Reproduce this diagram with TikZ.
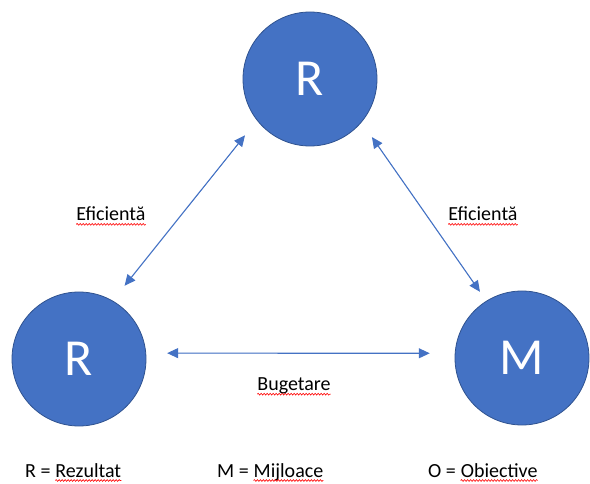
\documentclass[tikz,border=0pt]{standalone}
\usepackage{fontspec}
\setmainfont{Carlito}
\usepackage{tikz}
\usetikzlibrary{positioning}
\usetikzlibrary{arrows.meta}
\usetikzlibrary{decorations.pathmorphing}
\usepackage{xcolor}
\definecolor{officeblue}{HTML}{4472C4}
\definecolor{officeline}{HTML}{2F528F}

\begin{document}
\begin{tikzpicture}[
  x=1pt, y=-1pt,
  bubble/.style={circle, draw=officeline, line width=0.8pt, fill=officeblue, text=white,
    minimum size=134pt, inner sep=0pt, font=\fontsize{52}{60}\selectfont},
  link/.style={{Triangle[length=11pt,width=10pt]}-{Triangle[length=11pt,width=10pt]},
    draw=officeblue, fill=officeblue, line width=1.1pt},
  lbl/.style={inner sep=0pt, font=\fontsize{20}{24}\selectfont},
  squig/.style={draw=red, line width=0.6pt,
    decorate, decoration={snake, amplitude=0.9pt, segment length=3pt}}
]
\useasboundingbox (0,0) rectangle (590,484);

\node[bubble] (top)   at (310,79)  {R};
\node[bubble] (left)  at (79,359)  {R};
\node[bubble] (right) at (522,358) {M};

\draw[link, shorten <=19pt, shorten >=19pt] (top.218) -- (left.60);
\draw[link, shorten <=18pt, shorten >=11pt] (top.320) -- (right.122);
\draw[link, shorten <=21pt, shorten >=25pt] (left.5) -- (right.176);

\node[lbl] (effl) at (111,214) {Eficientă};
\node[lbl] (effr) at (483,214) {Eficientă};
\node[lbl] (bug)  at (294,386) {Bugetare};

% legend
\node[lbl, anchor=base west] (kr) at (25,477) {R =};
\node[lbl, base right=4.5pt of kr] (krw) {Rezultat};
\node[lbl, anchor=base west] (km) at (217,477) {M =};
\node[lbl, base right=4.5pt of km] (kmw) {Mijloace};
\node[lbl, anchor=base west] (ko) at (428,477) {O =};
\node[lbl, base right=4.5pt of ko] (kow) {Obiective};

% spell-check marks
\foreach \w in {effl, effr, bug, krw, kmw, kow}
  \draw[squig] ([yshift=-3.5pt]\w.base west) -- ([yshift=-3.5pt]\w.base east);
\end{tikzpicture}
\end{document}
